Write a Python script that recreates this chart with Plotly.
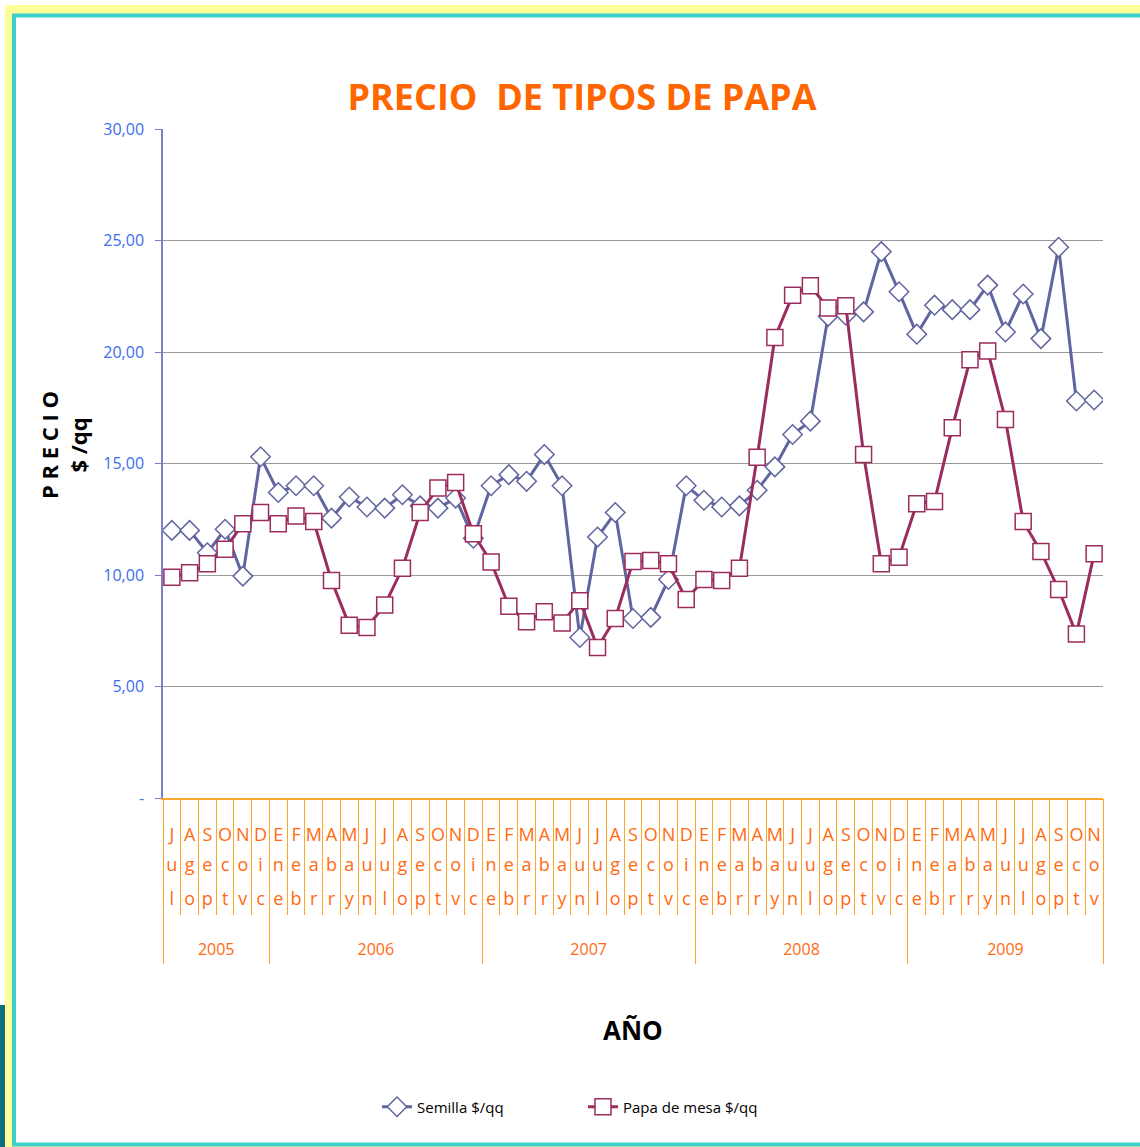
import plotly.graph_objects as go

years = ["2005"] * 6 + ["2006"] * 12 + ["2007"] * 12 + ["2008"] * 12 + ["2009"] * 11
month_names = ["Jul", "Ago", "Sep", "Oct", "Nov", "Dic",
               "Ene", "Feb", "Mar", "Abr", "May", "Jun", "Jul", "Ago", "Sep", "Oct", "Nov", "Dic",
               "Ene", "Feb", "Mar", "Abr", "May", "Jun", "Jul", "Ago", "Sep", "Oct", "Nov", "Dic",
               "Ene", "Feb", "Mar", "Abr", "May", "Jun", "Jul", "Ago", "Sep", "Oct", "Nov", "Dic",
               "Ene", "Feb", "Mar", "Abr", "May", "Jun", "Jul", "Ago", "Sep", "Oct", "Nov"]

semilla = [12.0, 12.0, 11.0, 12.05, 9.95, 15.3,
           13.7, 14.0, 14.0, 12.55, 13.5, 13.05, 13.0, 13.6, 13.1, 13.0, 13.45, 11.65,
           14.0, 14.5, 14.2, 15.4, 14.0, 7.2, 11.7, 12.8, 8.05, 8.1, 9.8, 14.0,
           13.35, 13.05, 13.1, 13.8, 14.85, 16.3, 16.9, 21.6, 21.65, 21.8, 24.5, 22.7,
           20.8, 22.1, 21.9, 21.9, 23.0, 20.9, 22.6, 20.6, 24.7, 17.8, 17.85]

papa_mesa = [9.9, 10.1, 10.5, 11.15, 12.3, 12.8,
             12.3, 12.65, 12.4, 9.75, 7.75, 7.65, 8.65, 10.3, 12.8, 13.9, 14.15, 11.85,
             10.58, 8.6, 7.9, 8.35, 7.85, 8.85, 6.75, 8.05, 10.6, 10.65, 10.5, 8.9,
             9.8, 9.75, 10.3, 15.28, 20.65, 22.55, 22.97, 21.97, 22.07, 15.4, 10.5, 10.8,
             13.2, 13.3, 16.6, 19.65, 20.05, 16.97, 12.4, 11.05, 9.35, 7.35, 10.95]

y_tick_vals = [0, 5, 10, 15, 20, 25, 30]
y_tick_text = ["-", "5,00", "10,00", "15,00", "20,00", "25,00", "30,00"]

# ---- derived positions on the category scale ----
n = len(month_names)
xi = list(range(n))
month_bounds = [i - 0.5 for i in range(n + 1)]
year_names = []
year_starts = []
for i, yv in enumerate(years):
    if not year_names or year_names[-1] != yv:
        year_names.append(yv)
        year_starts.append(i)
year_ends = year_starts[1:] + [n]
year_centers = [(a + b - 1) / 2 for a, b in zip(year_starts, year_ends)]
year_bounds = [a - 0.5 for a in year_starts] + [n - 0.5]

FONT = "Open Sans, sans-serif"
ORANGE = "#ff6a10"
SEP = "#ffa62b"

fig = go.Figure()
fig.add_trace(go.Scatter(
    x=xi, y=semilla, name="Semilla $/qq", mode="lines+markers",
    line=dict(color="#60659f", width=3),
    marker=dict(symbol="diamond", size=15, color="white",
                line=dict(color="#60659f", width=1.5)),
))
fig.add_trace(go.Scatter(
    x=xi, y=papa_mesa, name="Papa de mesa $/qq", mode="lines+markers",
    line=dict(color="#9b2c5e", width=3),
    marker=dict(symbol="square", size=16, color="white",
                line=dict(color="#9b2c5e", width=1.5)),
))
# empty traces to register the extra label axes
for ax in ["x2", "x3", "x4"]:
    fig.add_trace(go.Scatter(x=[], y=[], xaxis=ax, yaxis="y", showlegend=False,
                             hoverinfo="skip"))

L, R, T, B = 163, 37, 129, 349
W, H = 1140, 1147
pw, ph = W - L - R, H - T - B
def px(xp):
    return (xp - L) / pw
def py(yp):
    return (H - B - yp) / ph

# page frame: yellow band, teal border, white inside, dark strip at lower left
fig.add_shape(type="rect", xref="paper", yref="paper",
              x0=px(5), x1=px(1200), y0=py(1200), y1=py(5),
              line=dict(width=0), fillcolor="#ffff99", layer="below")
fig.add_shape(type="rect", xref="paper", yref="paper",
              x0=px(14), x1=px(1200), y0=py(1144.5), y1=py(15.5),
              line=dict(color="#3ccfcc", width=4), fillcolor="white", layer="below")
fig.add_shape(type="rect", xref="paper", yref="paper",
              x0=px(0), x1=px(5), y0=py(1150), y1=py(1005),
              line=dict(width=0), fillcolor="#0f6f80", layer="below")

fig.add_annotation(text="<b>P R E C I O<br>$ /qq</b>", textangle=-90,
                   xref="paper", yref="paper", x=px(63), y=py(445),
                   xanchor="center", yanchor="middle", showarrow=False,
                   font=dict(family=FONT, size=22, color="black"))
fig.add_annotation(text="<b>AÑO</b>", xref="paper", yref="paper",
                   x=px(633), y=py(1030), xanchor="center", yanchor="middle",
                   showarrow=False, font=dict(family=FONT, size=26, color="black"))

fig.update_layout(
    width=W, height=H,
    margin=dict(l=L, r=R, t=T, b=B),
    paper_bgcolor="white",
    plot_bgcolor="rgba(0,0,0,0)",
    title=dict(text="<b>PRECIO  DE TIPOS DE PAPA</b>", x=582 / W, xanchor="center",
               y=1 - 97 / H, yanchor="middle",
               font=dict(family=FONT, size=36, color="#ff6600")),
    showlegend=True,
    legend=dict(orientation="h", x=px(377), xanchor="left", y=py(1107), yanchor="middle",
                font=dict(family=FONT, size=15, color="black"),
                bgcolor="rgba(0,0,0,0)", entrywidth=161),
    font=dict(family=FONT),
)

fig.update_yaxes(
    range=[0, 30], tickvals=y_tick_vals, ticktext=y_tick_text,
    tickfont=dict(family=FONT, size=16, color="#3d6cf0"),
    showgrid=True, gridcolor="#9a9a9a", gridwidth=1,
    showline=True, linecolor="#7c80c4", linewidth=1.5,
    ticks="outside", ticklen=6, tickcolor="#7c80c4", ticklabelstandoff=8,
    zeroline=False,
)

xrange = [-0.5, n - 0.5]
common = dict(range=xrange, showgrid=False, zeroline=False, tickangle=0, ticks="")
fig.update_layout(
    xaxis=dict(**common, tickvals=xi, ticktext=[m[0] for m in month_names],
               tickfont=dict(family=FONT, size=18, color=ORANGE), ticklabelstandoff=20,
               showline=True, linecolor=SEP, linewidth=1.5,
               minor=dict(tickvals=month_bounds, ticks="outside", ticklen=115,
                          tickcolor=SEP, tickwidth=1)),
    xaxis2=dict(**common, overlaying="x", anchor="y", side="bottom", matches="x",
                tickvals=xi, ticktext=[m[1] for m in month_names],
                tickfont=dict(family=FONT, size=18, color=ORANGE), ticklabelstandoff=54,
                showline=False),
    xaxis3=dict(**common, overlaying="x", anchor="y", side="bottom", matches="x",
                tickvals=xi, ticktext=[m[2] for m in month_names],
                tickfont=dict(family=FONT, size=18, color=ORANGE), ticklabelstandoff=88,
                showline=False),
    xaxis4=dict(**common, overlaying="x", anchor="y", side="bottom", matches="x",
                tickvals=year_centers, ticktext=year_names,
                tickfont=dict(family=FONT, size=16, color=ORANGE), ticklabelstandoff=140,
                showline=False,
                minor=dict(tickvals=year_bounds, ticks="outside", ticklen=165,
                           tickcolor=SEP, tickwidth=1)),
)

fig.write_html("out.html", config={"displayModeBar": False},
               post_script="document.body.style.margin='0';document.body.style.overflow='hidden';")
